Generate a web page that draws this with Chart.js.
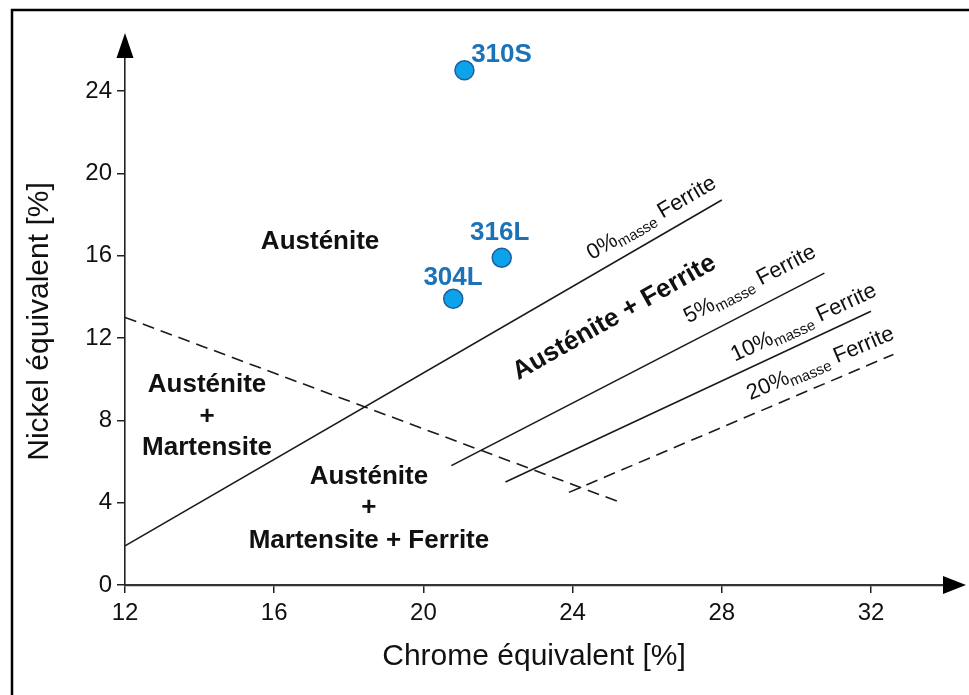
<!DOCTYPE html>
<html><head><meta charset="utf-8">
<script src="https://cdn.jsdelivr.net/npm/chart.js@4.4.0/dist/chart.umd.min.js"></script>
<style>html,body{margin:0;padding:0;background:#fff;} #wrap{width:969px;height:695px;position:relative;}</style>
</head><body><div id="wrap"><canvas id="c" width="969" height="695"></canvas></div>
<script>
// ---- data ----
const steelNames = ['304L', '316L', '310S'];
const steelCr = [20.8, 22.1, 21.1];
const steelNi = [13.9, 15.9, 25.0];
const ferrite0Cr = [12, 28.0];
const ferrite0Ni = [1.9, 18.7];
const ferrite5Cr = [20.75, 30.75];
const ferrite5Ni = [5.8, 15.15];
const ferrite10Cr = [22.2, 32.0];
const ferrite10Ni = [5.0, 13.3];
const ferrite20Cr = [23.9, 32.6];
const ferrite20Ni = [4.5, 11.2];
const martensiteCr = [12, 25.3];
const martensiteNi = [13.0, 4.0];
const xTicks = [12, 16, 20, 24, 28, 32];
const yTicks = [0, 4, 8, 12, 16, 20, 24];
const ferritePercents = ['0%', '5%', '10%', '20%'];

const FONT = '"Liberation Sans", Arial, Helvetica, sans-serif';
const pts = (xs, ys) => xs.map((x, i) => ({x: x, y: ys[i]}));

function lineDs(xs, ys, dashed) {
  return {type: 'scatter', data: pts(xs, ys), showLine: true, pointRadius: 0, pointHoverRadius: 0,
    borderColor: '#1a1a1a', borderWidth: 1.6, borderDash: dashed ? [12, 7] : [], fill: false};
}

// annotation texts (positions in data units)
const regionTexts = [
  {t: 'Austénite', x: 17.23, y: 16.65},
  {t: 'Austénite', x: 14.2, y: 9.71},
  {t: '+', x: 14.2, y: 8.16},
  {t: 'Martensite', x: 14.2, y: 6.65},
  {t: 'Austénite', x: 18.54, y: 5.24},
  {t: '+', x: 18.54, y: 3.74},
  {t: 'Martensite + Ferrite', x: 18.54, y: 2.14}
];
const ferriteTextPos = [
  {x: 24.51, y: 15.78, a: -30.2},
  {x: 27.1, y: 12.7, a: -27.6},
  {x: 28.35, y: 10.84, a: -25.0},
  {x: 28.76, y: 8.98, a: -23.0}
];
const steelTextPos = [
  {x: 20.0, y: 14.56},
  {x: 21.25, y: 16.75},
  {x: 21.28, y: 25.39}
];

const decor = {
  id: 'decor',
  beforeDraw(chart) {
    const ctx = chart.ctx;
    ctx.save();
    ctx.fillStyle = '#fff';
    ctx.fillRect(0, 0, chart.width, chart.height);
    ctx.restore();
  },
  afterDraw(chart) {
    const ctx = chart.ctx, xs = chart.scales.x, ys = chart.scales.y, ca = chart.chartArea;
    const X = v => xs.getPixelForValue(v), Y = v => ys.getPixelForValue(v);
    ctx.save();
    // frame
    ctx.strokeStyle = '#000'; ctx.lineWidth = 2.5;
    ctx.beginPath(); ctx.moveTo(12, 700); ctx.lineTo(12, 10); ctx.lineTo(975, 10); ctx.stroke();
    // arrows
    ctx.fillStyle = '#000';
    ctx.beginPath(); ctx.moveTo(ca.left, ca.top - 25); ctx.lineTo(ca.left - 8.5, ca.top); ctx.lineTo(ca.left + 8.5, ca.top); ctx.closePath(); ctx.fill();
    ctx.beginPath(); ctx.moveTo(ca.right + 23, ca.bottom); ctx.lineTo(ca.right, ca.bottom - 9); ctx.lineTo(ca.right, ca.bottom + 9); ctx.closePath(); ctx.fill();
    // region labels
    ctx.fillStyle = '#111'; ctx.textAlign = 'center'; ctx.textBaseline = 'middle';
    ctx.font = 'bold 26px ' + FONT;
    regionTexts.forEach(r => ctx.fillText(r.t, X(r.x), Y(r.y)));
    // rotated region label
    ctx.save();
    ctx.translate(X(22.54), Y(9.95)); ctx.rotate(-29.5 * Math.PI / 180);
    ctx.textAlign = 'left'; ctx.textBaseline = 'alphabetic';
    ctx.font = 'bold 26px ' + FONT;
    ctx.fillText('Austénite + Ferrite', 0, 0);
    ctx.restore();
    // ferrite labels
    ferriteTextPos.forEach((p, i) => {
      ctx.save();
      ctx.translate(X(p.x), Y(p.y)); ctx.rotate(p.a * Math.PI / 180);
      ctx.textAlign = 'left'; ctx.textBaseline = 'alphabetic'; ctx.fillStyle = '#111';
      let cx = 0;
      ctx.font = '22px ' + FONT; ctx.fillText(ferritePercents[i], cx, 0); cx += ctx.measureText(ferritePercents[i]).width;
      ctx.font = '15px ' + FONT; ctx.fillText('masse', cx, 4); cx += ctx.measureText('masse').width;
      ctx.font = '22px ' + FONT; ctx.fillText(' Ferrite', cx, 0);
      ctx.restore();
    });
    // steel labels
    ctx.fillStyle = '#1b72b8'; ctx.font = 'bold 26px ' + FONT; ctx.textAlign = 'left'; ctx.textBaseline = 'alphabetic';
    steelNames.forEach((n, i) => ctx.fillText(n, X(steelTextPos[i].x), Y(steelTextPos[i].y)));
    ctx.restore();
  }
};

new Chart(document.getElementById('c'), {
  type: 'scatter',
  data: {
    datasets: [
      lineDs(martensiteCr, martensiteNi, true),
      lineDs(ferrite0Cr, ferrite0Ni, false),
      lineDs(ferrite5Cr, ferrite5Ni, false),
      lineDs(ferrite10Cr, ferrite10Ni, false),
      lineDs(ferrite20Cr, ferrite20Ni, true),
      {type: 'scatter', data: pts(steelCr, steelNi), pointRadius: 9.5, pointHoverRadius: 9.5,
        backgroundColor: '#0ca3ea', borderColor: '#1d5f9c', borderWidth: 1.5, showLine: false}
    ]
  },
  options: {
    responsive: false, animation: false, devicePixelRatio: 1,
    layout: {padding: {left: 0, right: 26, top: 58, bottom: 0}},
    plugins: {legend: {display: false}, tooltip: {enabled: false}},
    scales: {
      x: {
        type: 'linear', min: 12, max: 33.93,
        afterBuildTicks: s => { s.ticks = xTicks.map(v => ({value: v})); },
        afterFit: s => { s.height = 110; },
        grid: {display: true, drawOnChartArea: false, drawTicks: true, tickLength: 8, color: '#222', lineWidth: 1.5},
        border: {display: true, color: '#333', width: 2.2},
        ticks: {font: {size: 24, family: FONT}, color: '#111', padding: 6, maxRotation: 0, autoSkip: false},
        title: {display: true, text: 'Chrome équivalent [%]', font: {size: 30, family: FONT}, color: '#111', padding: {top: 0, bottom: 20}}
      },
      y: {
        type: 'linear', min: 0, max: 25.6,
        afterBuildTicks: s => { s.ticks = yTicks.map(v => ({value: v})); },
        afterFit: s => { s.width = 125; },
        grid: {display: true, drawOnChartArea: false, drawTicks: true, tickLength: 8, color: '#222', lineWidth: 1.5},
        border: {display: true, color: '#222', width: 1.6},
        ticks: {font: {size: 24, family: FONT}, color: '#111', padding: 5, autoSkip: false},
        title: {display: true, text: 'Nickel équivalent [%]', font: {size: 30, family: FONT}, color: '#111', padding: {top: 22, bottom: 0}}
      }
    }
  },
  plugins: [decor]
});
</script>
</body></html>
